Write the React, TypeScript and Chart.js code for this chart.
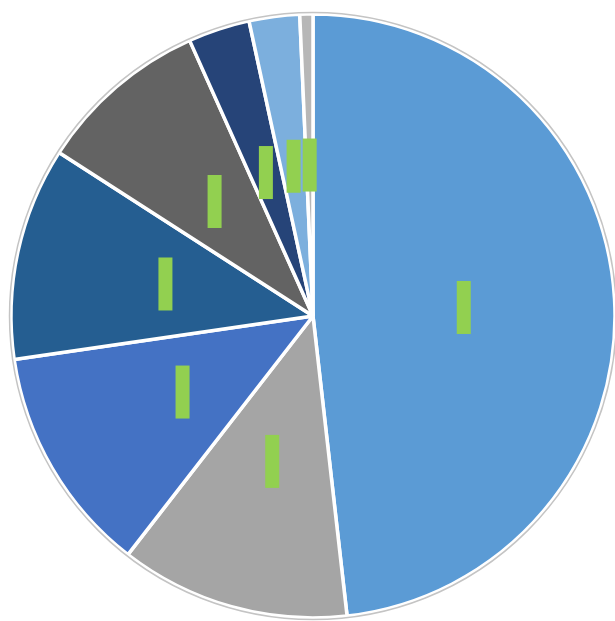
import React, { useEffect, useRef } from "react";
import { Chart, registerables } from "chart.js";

Chart.register(...registerables);

const categories = ["A", "B", "C", "D", "E", "F", "G", "H"];
const values = [48.2, 12.3, 12.2, 11.4, 9.2, 3.3, 2.7, 0.7];
const colors = ["#5B9BD5", "#A5A5A5", "#4472C4", "#255E91", "#636363", "#264478", "#7CAFDD", "#B7B7B7"];

const decorPlugin = {
  id: "decor",
  afterDatasetsDraw(chart: any) {
    const ctx = chart.ctx;
    const meta = chart.getDatasetMeta(0);
    if (!meta.data.length) return;
    const a0 = meta.data[0] as any;
    const cx = a0.x;
    const cy = a0.y;
    const R = a0.outerRadius;
    ctx.save();
    ctx.beginPath();
    ctx.arc(cx, cy, R + 1.5, 0, Math.PI * 2);
    ctx.strokeStyle = "#C4C4C4";
    ctx.lineWidth = 1.5;
    ctx.stroke();
    meta.data.forEach((arc: any) => {
      const mid = (arc.startAngle + arc.endAngle) / 2;
      const r = R * 0.5;
      const x = cx + Math.cos(mid) * r;
      const y = cy + Math.sin(mid) * r;
      const w = 14;
      const h = 53;
      ctx.fillStyle = "#92D050";
      ctx.fillRect(x - w / 2, y - h / 2, w, h);
    });
    ctx.restore();
  },
};

export default function App() {
  const ref = useRef<HTMLCanvasElement>(null);
  useEffect(() => {
    if (!ref.current) return;
    const chart = new Chart(ref.current, {
      type: "pie",
      data: {
        labels: categories,
        datasets: [
          {
            data: values,
            backgroundColor: colors,
            borderColor: "#FFFFFF",
            borderWidth: 3.5,
          },
        ],
      },
      options: {
        responsive: false,
        animation: false,
        radius: 302,
        layout: { padding: { left: 11, top: 11, right: 0, bottom: 0 } },
        plugins: {
          legend: { display: false },
          tooltip: { enabled: false },
        },
      } as any,
      plugins: [decorPlugin],
    });
    return () => chart.destroy();
  }, []);
  return (
    <div style={{ position: "fixed", left: 0, top: 0, width: 615, height: 621, background: "#FFFFFF" }}>
      <canvas ref={ref} width={615} height={621} style={{ width: 615, height: 621, display: "block" }} />
    </div>
  );
}
